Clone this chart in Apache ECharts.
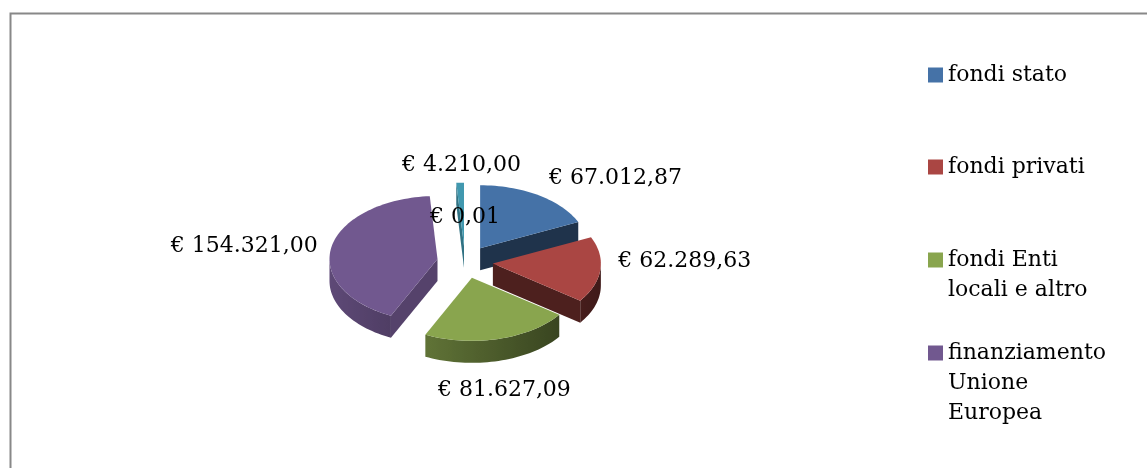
<!DOCTYPE html>
<html>
<head>
    <meta charset="utf-8">
    <title>ECharts</title>
    <script src="https://cdn.jsdelivr.net/npm/echarts@6/dist/echarts.min.js"></script>
    <style>
        html, body { margin: 0; padding: 0; background: #fff; }
    </style>
</head>
<body>
    <div id="container" style="width: 1147px;height:468px;"></div>
    <script type="text/javascript">
        // dati del grafico
        var categories = ['fondi stato', 'fondi privati', 'fondi Enti locali e altro', 'finanziamento Unione Europea', 'altri fondi', 'altro'];
        var values = [67012.87, 62289.63, 81627.09, 154321.00, 4210.00, 0.01];
        var colors = ['#4572A7', '#AA4643', '#89A54E', '#71588F', '#4198AF', '#DB843D'];
        // righe della legenda (solo le prime 4 voci)
        var legendLines = [['fondi stato'], ['fondi privati'], ['fondi Enti', 'locali e altro'], ['finanziamento', 'Unione', 'Europea']];
        var legendTops = [60, 152, 215, 278];

        var FONT = '22px "DejaVu Serif"';
        var total = values.reduce(function (a, b) { return a + b; }, 0);

        function euro(v) {
            var p = v.toFixed(2).split('.');
            return '€ ' + p[0].replace(/\B(?=(\d{3})+(?!\d))/g, '.') + ',' + p[1];
        }
        function shade(hex, f) {
            var r = parseInt(hex.slice(1, 3), 16), g = parseInt(hex.slice(3, 5), 16), b = parseInt(hex.slice(5, 7), 16);
            return 'rgb(' + Math.round(r * f) + ',' + Math.round(g * f) + ',' + Math.round(b * f) + ')';
        }

        // torta 3D "esplosa" disegnata come serie custom
        function makeRender(i) {
            return function (params, api) {
                var before = 0;
                for (var k = 0; k < i; k++) before += values[k];
                var start = before / total * Math.PI * 2;
                var end = (before + api.value(0)) / total * Math.PI * 2;
                var mid = (start + end) / 2;
                var cx = 465, cy = 262, rx = 108, ry = 63, depth = 22, ex = 28;
                var ox = cx + ex * Math.sin(mid), oy = cy - ex * ry / rx * Math.cos(mid);
                function pt(t, dz) { return [ox + rx * Math.sin(t), oy - ry * Math.cos(t) + (dz || 0)]; }
                var step = Math.PI / 90;
                var children = [];

                // lato esterno (visibile solo nella metà anteriore)
                var s0 = Math.max(start, Math.PI / 2), s1 = Math.min(end, Math.PI * 1.5);
                if (s1 > s0) {
                    var topPts = [], botPts = [], ts = [];
                    var n = Math.max(2, Math.ceil((s1 - s0) / step));
                    for (var j = 0; j <= n; j++) ts.push(s0 + (s1 - s0) * j / n);
                    ts.forEach(function (t) { topPts.push(pt(t)); botPts.unshift(pt(t, depth)); });
                    var xa = pt(s0)[0], xb = pt(s1)[0];
                    var xmin = Math.min(xa, xb), xmax = Math.max(xa, xb);
                    var stops = ts.map(function (t) {
                        return { offset: xmax > xmin ? (pt(t)[0] - xmin) / (xmax - xmin) : 0, color: shade(colors[i], 0.6 - 0.23 * Math.sin(t)) };
                    }).sort(function (a, b) { return a.offset - b.offset; });
                    children.push({
                        type: 'polygon', z2: 1,
                        shape: { points: topPts.concat(botPts) },
                        style: { fill: { type: 'linear', x: xmin, y: 0, x2: xmax, y2: 0, global: true, colorStops: stops } }
                    });
                }
                // facce di taglio
                if (Math.sin(start) < -0.001) {
                    var a = pt(start);
                    children.push({
                        type: 'polygon', z2: 2,
                        shape: { points: [[ox, oy], a, [a[0], a[1] + depth], [ox, oy + depth]] },
                        style: { fill: shade(colors[i], 0.75) }
                    });
                }
                if (Math.sin(end) > 0.001) {
                    var b = pt(end);
                    children.push({
                        type: 'polygon', z2: 2,
                        shape: { points: [[ox, oy], b, [b[0], b[1] + depth], [ox, oy + depth]] },
                        style: { fill: shade(colors[i], 0.45) }
                    });
                }
                // faccia superiore
                var top = [[ox, oy]];
                var m = Math.max(1, Math.ceil((end - start) / step));
                for (var q = 0; q <= m; q++) top.push(pt(start + (end - start) * q / m));
                children.push({
                    type: 'polygon', z2: 10,
                    shape: { points: top },
                    style: { fill: colors[i] }
                });

                // etichetta
                var s = Math.sin(mid), c = Math.cos(mid);
                var lx, ly, align, valign;
                if (api.value(0) / total < 0.0005) {
                    lx = ox + 0.45 * rx * s; ly = oy - 0.45 * ry * c;
                    align = 'center'; valign = 'middle';
                } else {
                    lx = cx + 2 + 152 * s;
                    ly = c >= 0 ? cy - 86 * c : cy - 14 - 135 * c;
                    align = s > 0.3 ? 'left' : (s < -0.3 ? 'right' : 'center');
                    valign = Math.abs(c) < 0.5 ? 'middle' : (c > 0 ? 'bottom' : 'top');
                }
                children.push({
                    type: 'text', z2: 20,
                    style: { text: euro(api.value(0)), x: lx, y: ly, align: align, verticalAlign: valign, font: FONT, fill: '#000' }
                });
                return { type: 'group', children: children };
            };
        }

        var myChart = echarts.init(document.getElementById('container'));
        var option = {
            animation: false,
            backgroundColor: '#fff',
            graphic: [{
                type: 'rect', left: 8, top: 11, silent: true,
                shape: { width: 1300, height: 600 },
                style: { fill: 'none', stroke: '#888888', lineWidth: 2 }
            }],
            legend: legendLines.map(function (lines, k) {
                return {
                    data: [categories[k]],
                    left: 928,
                    top: legendTops[k],
                    padding: 0,
                    orient: 'vertical',
                    icon: 'rect',
                    itemWidth: 15,
                    itemHeight: 15,
                    selectedMode: false,
                    formatter: function () {
                        return new Array(lines.length).join('\n') + lines.join('\n');
                    },
                    textStyle: { fontFamily: 'DejaVu Serif', fontSize: 22, lineHeight: 30, color: '#000' }
                };
            }),
            series: categories.map(function (name, i) {
                return {
                    name: name,
                    type: 'custom',
                    coordinateSystem: 'none',
                    itemStyle: { color: colors[i] },
                    renderItem: makeRender(i),
                    data: [values[i]]
                };
            })
        };
        myChart.setOption(option);
    </script>
</body>
</html>
